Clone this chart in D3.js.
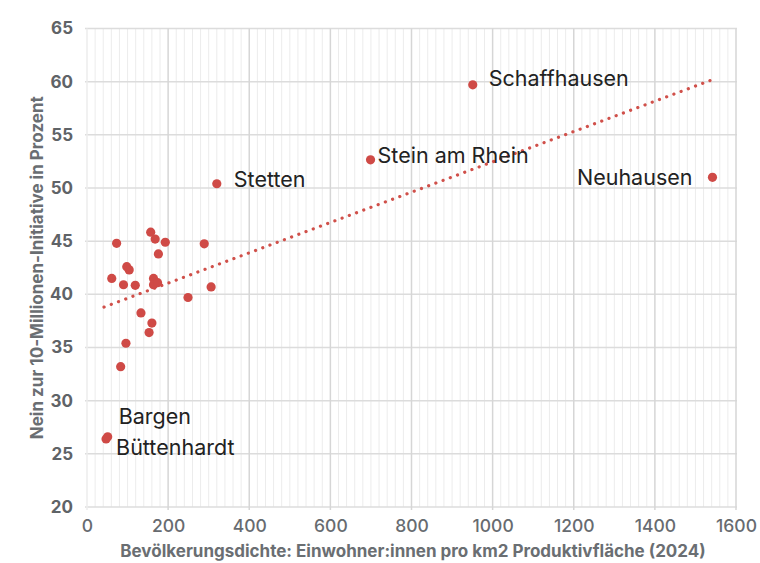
<!DOCTYPE html>
<html>
<head>
<meta charset="utf-8">
<script src="https://cdn.jsdelivr.net/npm/d3@7"></script>
<style>
  body { margin: 0; background: #fff; }
  svg text { font-family: Inter, "Open Sans", sans-serif; }
</style>
</head>
<body>
<div id="chart"></div>
<script>
// population density (x) and "no" share in percent (y)
var density = [157, 168, 193, 73, 289, 176, 98, 104, 61, 164, 164, 174, 90, 119,
               306, 249, 133, 160, 153, 96, 83, 47, 51, 320, 699, 951, 1542];
var nein = [45.85, 45.2, 44.9, 44.8, 44.75, 43.8, 42.6, 42.3, 41.5, 41.5, 40.9, 41.1, 40.9, 40.85,
            40.7, 39.7, 38.25, 37.3, 36.4, 35.4, 33.2, 26.4, 26.6, 50.4, 52.65, 59.7, 51.0];
var names = ['', '', '', '', '', '', '', '', '', '', '', '', '', '',
             '', '', '', '', '', '', '', 'Büttenhardt', 'Bargen', 'Stetten', 'Stein am Rhein', 'Schaffhausen', 'Neuhausen'];
var xTicks = [0, 200, 400, 600, 800, 1000, 1200, 1400, 1600];
var yTicks = [20, 25, 30, 35, 40, 45, 50, 55, 60, 65];
// trend line ends
var trendX = [42, 1543];
var trendY = [38.8, 60.2];

var W = 760, H = 563;
var m = {t: 28.5, r: 24, b: 56, l: 87};

var svg = d3.select('#chart').append('svg')
    .attr('width', W).attr('height', H);

var x = d3.scaleLinear().domain([0, 1600]).range([m.l, W - m.r]);
var y = d3.scaleLinear().domain([20, 65]).range([H - m.b, m.t]);

var g = svg.append('g');

// minor vertical grid every 20
var minor = d3.range(0, 1601, 20).filter(function(d) { return d % 200 !== 0; });
g.selectAll('.vminor').data(minor).enter().append('line')
    .attr('x1', function(d) { return x(d); }).attr('x2', function(d) { return x(d); })
    .attr('y1', y(65)).attr('y2', y(20))
    .attr('stroke', '#ececec').attr('stroke-width', 1);

// horizontal grid
g.selectAll('.hgrid').data(yTicks).enter().append('line')
    .attr('x1', x(0) - 2).attr('x2', x(1600) + 1)
    .attr('y1', function(d) { return y(d); }).attr('y2', function(d) { return y(d); })
    .attr('stroke', '#dcdcdc').attr('stroke-width', 1.5);

// major vertical grid
g.selectAll('.vmajor').data(xTicks).enter().append('line')
    .attr('x1', function(d) { return x(d); }).attr('x2', function(d) { return x(d); })
    .attr('y1', y(65)).attr('y2', y(20) + 3)
    .attr('stroke', function(d) { return d === 0 ? '#ececec' : '#d6d6d6'; })
    .attr('stroke-width', 1.5);

// axes (labels only)
var xAxis = svg.append('g')
    .attr('transform', 'translate(0,' + (H - m.b) + ')')
    .call(d3.axisBottom(x).tickValues(xTicks).tickFormat(d3.format('d')).tickSize(0).tickPadding(13));
xAxis.select('.domain').remove();
xAxis.selectAll('text')
    .attr('font-size', 17.5).attr('font-weight', 500).attr('fill', '#676b70')
    .style('font-family', 'Inter, sans-serif');

var yAxis = svg.append('g')
    .attr('transform', 'translate(' + (m.l - 14) + ',0)')
    .call(d3.axisLeft(y).tickValues(yTicks).tickSize(0).tickPadding(0));
yAxis.select('.domain').remove();
yAxis.selectAll('text')
    .attr('font-size', 17).attr('font-weight', 700).attr('fill', '#5f6367')
    .style('font-family', 'Inter, sans-serif');

// axis titles
svg.append('text')
    .attr('x', 413).attr('y', 557)
    .attr('text-anchor', 'middle')
    .attr('font-size', 17).attr('font-weight', 700).attr('fill', '#6a6e72')
    .text('Bevölkerungsdichte: Einwohner:innen pro km2 Produktivfläche (2024)');

svg.append('text')
    .attr('transform', 'translate(43,' + ((m.t + H - m.b) / 2) + ') rotate(-90)')
    .attr('text-anchor', 'middle')
    .attr('font-size', 17).attr('font-weight', 700).attr('fill', '#6a6e72')
    .text('Nein zur 10-Millionen-Initiative in Prozent');

// trend line (dotted)
svg.append('line')
    .attr('x1', x(trendX[0])).attr('y1', y(trendY[0]))
    .attr('x2', x(trendX[1])).attr('y2', y(trendY[1]))
    .attr('stroke', '#d0504a').attr('stroke-width', 3.2)
    .attr('stroke-linecap', 'round')
    .attr('stroke-dasharray', '0.1 7.6');

// points
var pts = d3.range(density.length).map(function(i) {
    return {x: density[i], y: nein[i], name: names[i]};
});
svg.selectAll('.dot').data(pts).enter().append('circle')
    .attr('cx', function(d) { return x(d.x); })
    .attr('cy', function(d) { return y(d.y); })
    .attr('r', 4.6)
    .attr('fill', '#cf4a46');

// labels
var labelPos = {
    'Schaffhausen': {dx: 16, dy: -6, anchor: 'start'},
    'Stein am Rhein': {dx: 7, dy: -4, anchor: 'start'},
    'Stetten': {dx: 17, dy: -4, anchor: 'start'},
    'Neuhausen': {dx: -20, dy: 0, anchor: 'end'},
    'Bargen': {dx: 11, dy: -20, anchor: 'start'},
    'Büttenhardt': {dx: 10, dy: 9, anchor: 'start'}
};
svg.selectAll('.lbl').data(pts.filter(function(d) { return d.name; })).enter().append('text')
    .attr('x', function(d) { return x(d.x) + labelPos[d.name].dx; })
    .attr('y', function(d) { return y(d.y) + labelPos[d.name].dy; })
    .attr('dy', '0.35em')
    .attr('text-anchor', function(d) { return labelPos[d.name].anchor; })
    .attr('font-size', 21.5).attr('fill', '#222')
    .text(function(d) { return d.name; });
</script>
</body>
</html>
